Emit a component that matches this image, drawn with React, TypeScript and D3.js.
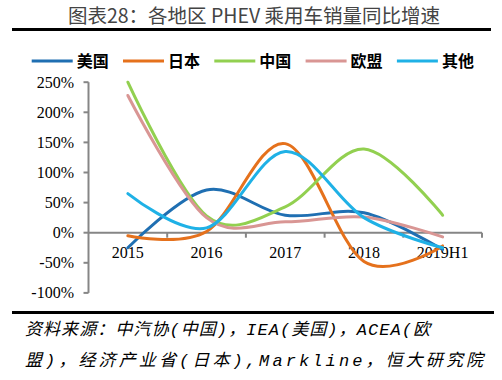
import React from "react";
import * as d3 from "d3";

const categories = ["2015", "2016", "2017", "2018", "2019H1"];
const seriesNames = ["美国", "日本", "中国", "欧盟", "其他"];
const usa = [-25, 71, 29, 33, -28];
const japan = [-5, 2, 148, -48, -22];
const china = [250, 28, 43, 139, 29];
const eu = [228, 25, 18, 26, -7];
const other = [65, 8, 135, 25, -25];
const seriesColors = ["#1f6fb2", "#e5711c", "#92d050", "#d99694", "#1fb1e6"];
const yTicks = [-100, -50, 0, 50, 100, 150, 200, 250];
const title = "图表28：各地区 PHEV 乘用车销量同比增速";
const source1 = "资料来源：中汽协(中国)，IEA(美国)，ACEA(欧";
const source2 = "盟)，经济产业省(日本),Markline，恒大研究院";

export default function App() {
  const W = 502, H = 380;
  const allSeries = [usa, japan, china, eu, other];
  const x = d3.scaleBand<string>().domain(categories).range([88.5, 482]);
  const y = d3.scaleLinear().domain([-100, 250]).range([292.9, 82.2]);
  const line = d3
    .line<number>()
    .x((_, i) => (x(categories[i]) as number) + x.bandwidth() / 2)
    .y((d) => y(d))
    .curve(d3.curveCardinal.tension(0));
  const serif = "'Liberation Serif', 'Times New Roman', serif";
  const cjk = "'Noto Sans CJK SC', sans-serif";
  const mono = "'Liberation Mono', 'Noto Sans CJK SC', monospace";
  const legendX0 = 31.7;
  const legendStep = 91.3;
  const y0 = y(0);
  return (
    <svg width={W} height={H} style={{ position: "absolute", left: 0, top: 0, background: "#fff" }}>
      <rect x={0} y={0} width={W} height={H} fill="#fff" />
      <text x={254} y={23} textAnchor="middle" fontFamily={cjk} fontSize={19.5} fill="#444">
        {title}
      </text>
      <rect x={12} y={28} width={479} height={3} fill="#000" />
      {seriesNames.map((n, i) => {
        const lx = legendX0 + i * legendStep;
        return (
          <g key={n}>
            <line x1={lx} x2={lx + 41} y1={61} y2={61} stroke={seriesColors[i]} strokeWidth={3} />
            <text x={lx + 45} y={66.5} fontFamily={cjk} fontWeight="bold" fontSize={16} fill="#000">
              {n}
            </text>
          </g>
        );
      })}
      <line x1={88.5} x2={88.5} y1={y(250)} y2={y(-100)} stroke="#868686" strokeWidth={2} />
      {yTicks.map((t) => (
        <g key={t}>
          <line x1={83.5} x2={88.5} y1={y(t)} y2={y(t)} stroke="#868686" strokeWidth={2} />
          <text x={74} y={y(t) + 5.5} textAnchor="end" fontFamily={serif} fontSize={16} fill="#000">
            {t + "%"}
          </text>
        </g>
      ))}
      <line x1={88.5} x2={482} y1={y0} y2={y0} stroke="#868686" strokeWidth={2} />
      {categories.map((c) => (
        <g key={c}>
          <line
            x1={(x(c) as number) + x.bandwidth()}
            x2={(x(c) as number) + x.bandwidth()}
            y1={y0}
            y2={y0 + 5}
            stroke="#868686"
            strokeWidth={2}
          />
          <text
            x={(x(c) as number) + x.bandwidth() / 2}
            y={y0 + 25}
            textAnchor="middle"
            fontFamily={serif}
            fontSize={16}
            fill="#000"
          >
            {c}
          </text>
        </g>
      ))}
      {allSeries.map((s, i) => (
        <path key={i} d={line(s) || ""} fill="none" stroke={seriesColors[i]} strokeWidth={3} strokeLinecap="round" />
      ))}
      <rect x={12} y={311} width={482} height={3} fill="#000" />
      <text x={25} y={335} fontFamily={mono} fontStyle="italic" fontSize={17} fill="#000" textLength={405} lengthAdjust="spacing">
        {source1}
      </text>
      <text x={25} y={366} fontFamily={mono} fontStyle="italic" fontSize={17} fill="#000" textLength={458} lengthAdjust="spacing">
        {source2}
      </text>
    </svg>
  );
}
